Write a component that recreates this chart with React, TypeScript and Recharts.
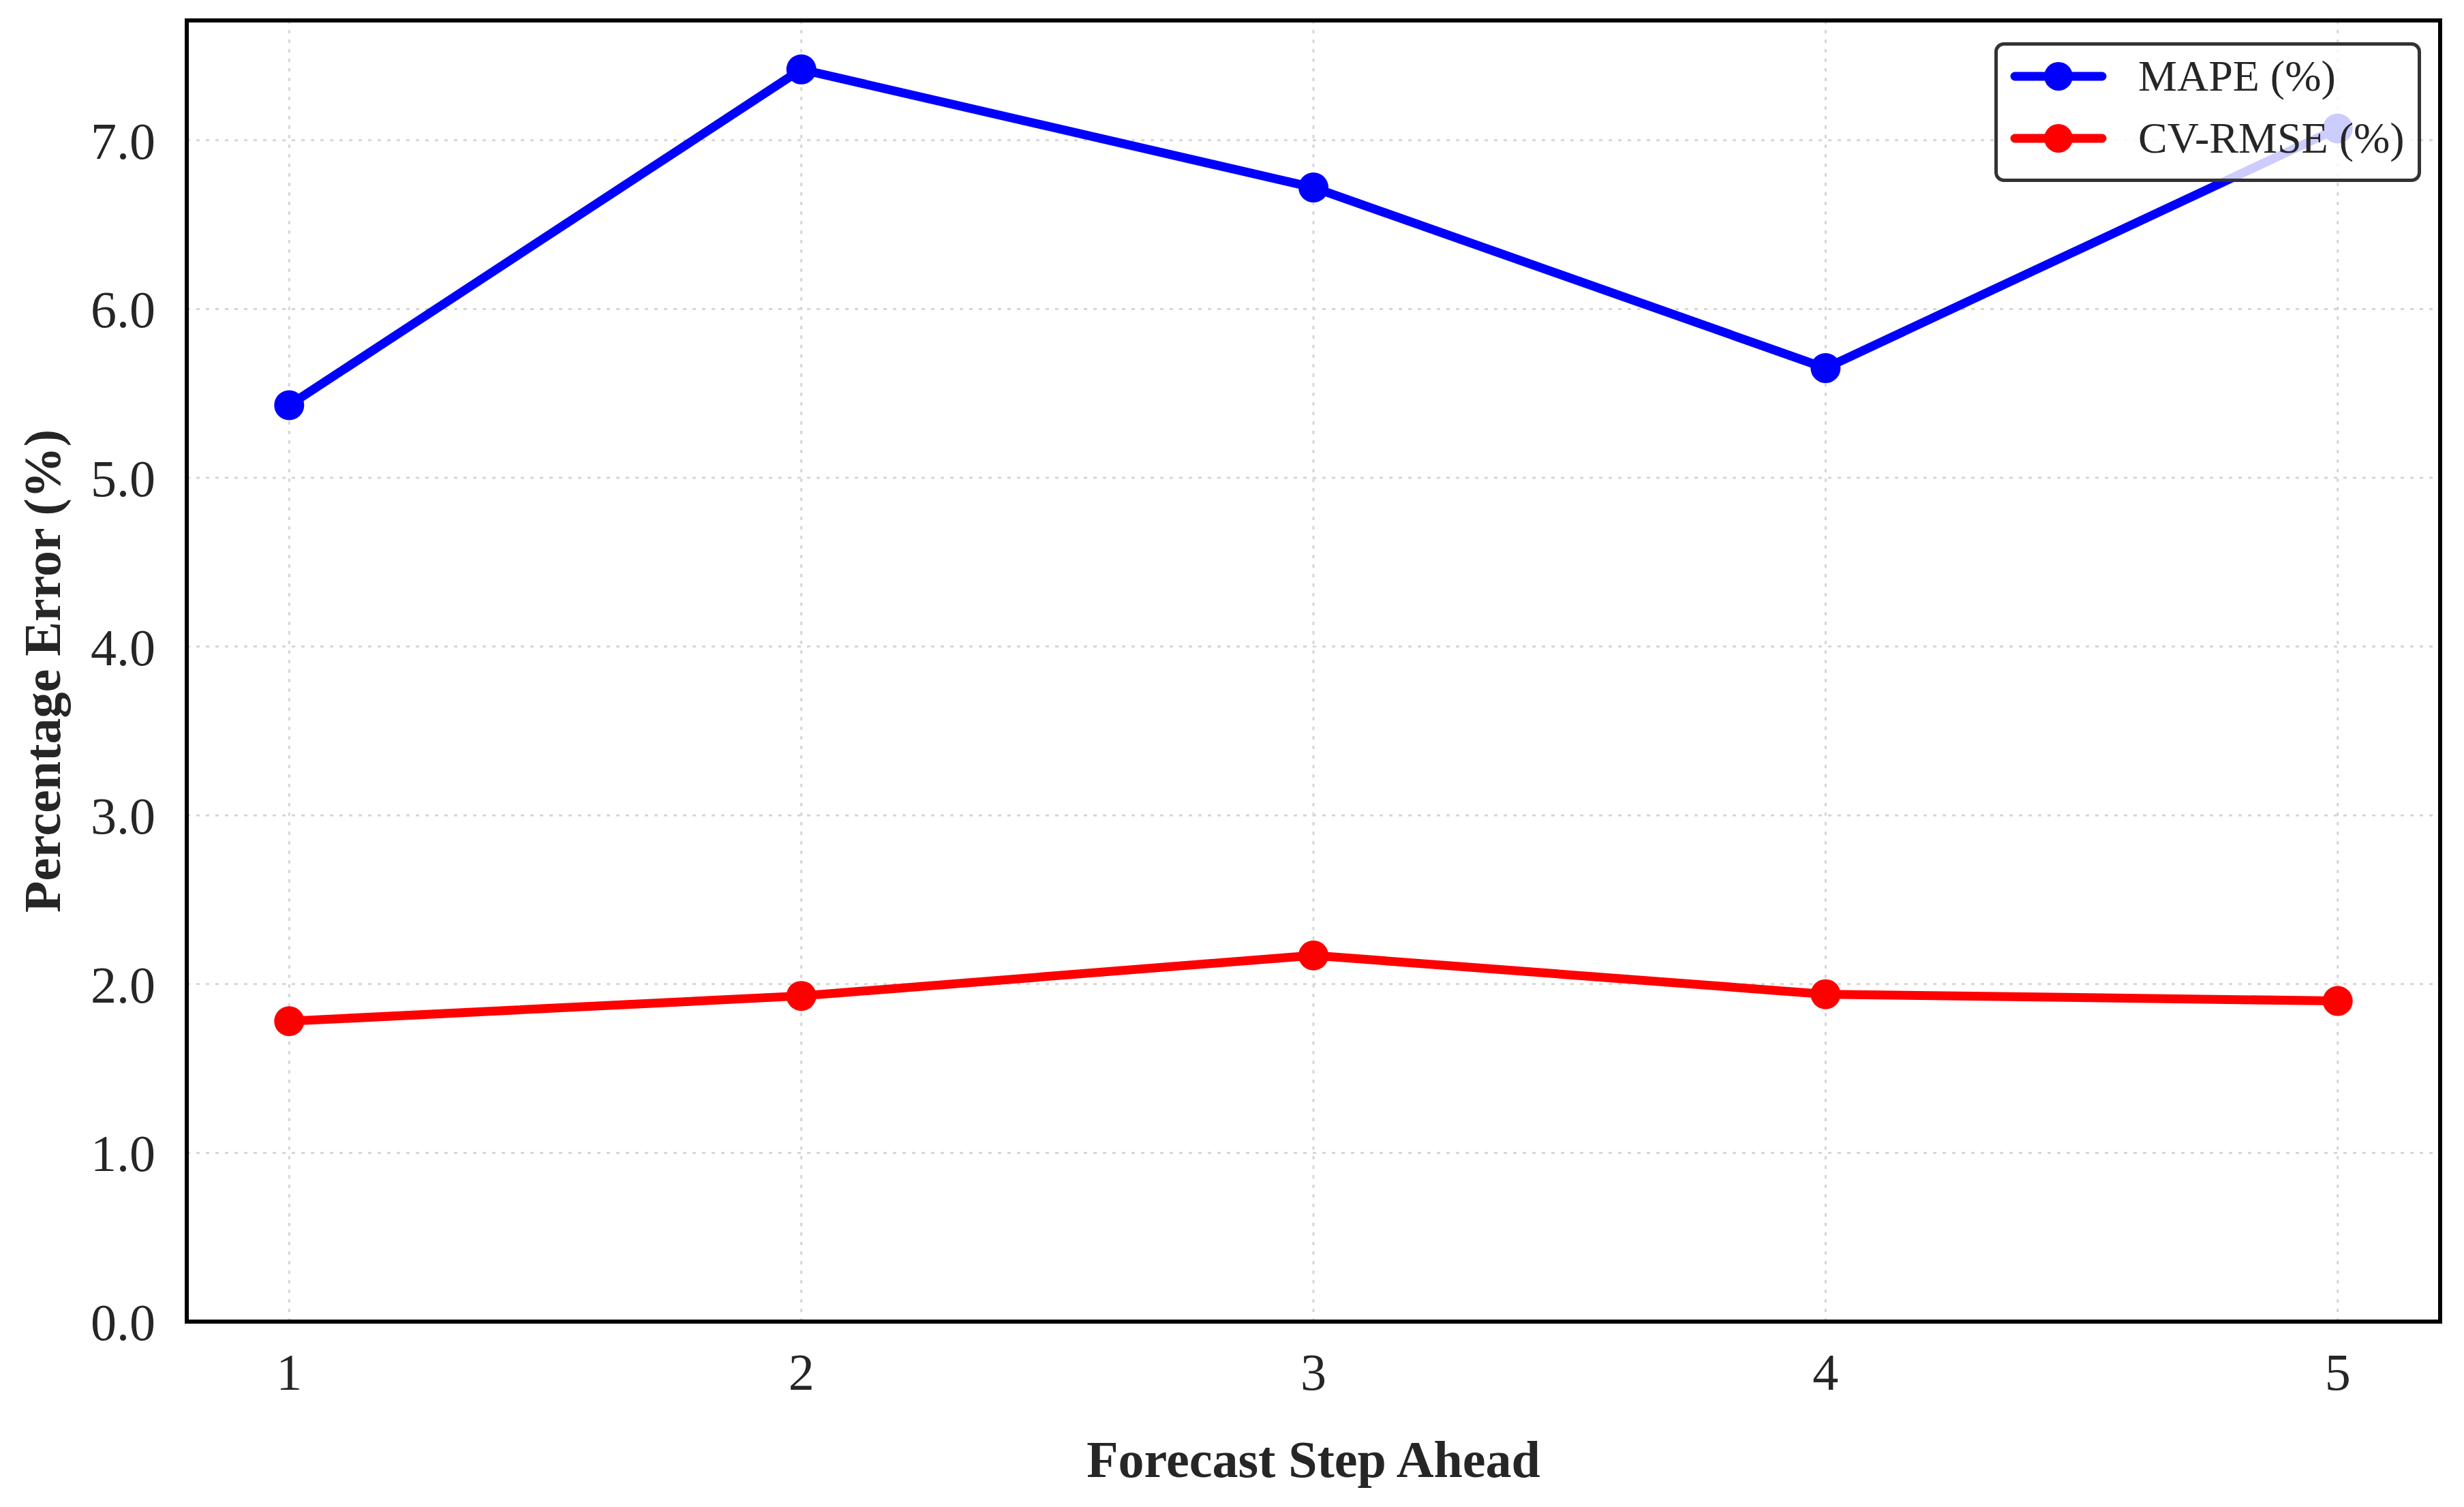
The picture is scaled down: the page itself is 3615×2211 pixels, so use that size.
import React from 'react';
import { LineChart, Line, XAxis, YAxis, CartesianGrid, Legend, ReferenceArea, Label } from 'recharts';

const steps = [1, 2, 3, 4, 5];
const mape = [5.43, 7.42, 6.72, 5.65, 7.07];
const cvRmse = [1.78, 1.93, 2.17, 1.94, 1.9];
const yTicks = [0, 1, 2, 3, 4, 5, 6, 7];
const seriesNames = ['MAPE (%)', 'CV-RMSE (%)'];

const data = steps.map((step, i) => ({ step, mape: mape[i], cvRmse: cvRmse[i] }));

const FONT = '"Liberation Serif", "Times New Roman", Times, serif';
const TEXT = '#262626';

const YTitle = (props: any) => {
  const { viewBox } = props;
  const cx = 88;
  const cy = viewBox.y + viewBox.height / 2;
  return (
    <text x={cx} y={cy} transform={`rotate(-90, ${cx}, ${cy})`} textAnchor="middle"
      fontFamily={FONT} fontSize={76} fontWeight="bold" fill={TEXT}>
      Percentage Error (%)
    </text>
  );
};

const XTitle = (props: any) => {
  const { viewBox } = props;
  return (
    <text x={viewBox.x + viewBox.width / 2} y={2167} textAnchor="middle"
      fontFamily={FONT} fontSize={76} fontWeight="bold" fill={TEXT}>
      Forecast Step Ahead
    </text>
  );
};

const renderLegend = (props: any) => {
  const payload = [...(props.payload || [])].sort(
    (a: any, b: any) => seriesNames.indexOf(a.value) - seriesNames.indexOf(b.value)
  );
  return (
    <div style={{
      position: 'relative', boxSizing: 'border-box', width: 626, height: 205,
      border: '5px solid #333', borderRadius: 14, background: 'rgba(255,255,255,0.8)',
    }}>
      {payload.map((entry: any, i: number) => (
        <div key={entry.value} style={{
          position: 'absolute', left: 17, top: 5 + i * 91, height: 80,
          display: 'flex', alignItems: 'center',
        }}>
          <svg width={144} height={50} style={{ display: 'block' }}>
            <line x1={8} y1={25} x2={136} y2={25} stroke={entry.color} strokeWidth={13} strokeLinecap="round" />
            <circle cx={72} cy={25} r={21} fill={entry.color} />
          </svg>
          <span style={{ marginLeft: 45, fontFamily: FONT, fontSize: 64, color: TEXT, whiteSpace: 'nowrap' }}>
            {entry.value}
          </span>
        </div>
      ))}
    </div>
  );
};

export default function App() {
  return (
    <div style={{ position: 'absolute', left: 0, top: 0, width: 3615, height: 2211, background: '#fff' }}>
      <LineChart width={3615} height={2211} data={data} margin={{ top: 30, right: 35, left: 54, bottom: 12 }}>
        <CartesianGrid stroke="#d6d6d6" strokeWidth={3} strokeDasharray="5 9" />
        <XAxis dataKey="step" type="number" domain={[0.8, 5.2]} ticks={steps} height={260}
          axisLine={false} tickLine={false} tickSize={0} tickMargin={46}
          tick={{ fontSize: 76, fill: TEXT, fontFamily: FONT }}>
          <Label content={XTitle} />
        </XAxis>
        <YAxis type="number" domain={[0, 7.71]} ticks={yTicks} width={220}
          axisLine={false} tickLine={false} tickSize={0} tickMargin={46}
          tickFormatter={(v: number) => v.toFixed(1)}
          tick={{ fontSize: 76, fill: TEXT, fontFamily: FONT }}>
          <Label content={YTitle} />
        </YAxis>
        <ReferenceArea x1={0.8} x2={5.2} y1={0} y2={7.71} fill="none" stroke="#000" strokeWidth={6} />
        <Line dataKey="mape" name={seriesNames[0]} stroke="#0000ff" strokeWidth={13} strokeLinejoin="round"
          dot={{ r: 22, fill: '#0000ff', stroke: '#0000ff', strokeWidth: 0 }} activeDot={false}
          isAnimationActive={false} />
        <Line dataKey="cvRmse" name={seriesNames[1]} stroke="#ff0000" strokeWidth={13} strokeLinejoin="round"
          dot={{ r: 22, fill: '#ff0000', stroke: '#ff0000', strokeWidth: 0 }} activeDot={false}
          isAnimationActive={false} />
        <Legend layout="vertical" align="center" verticalAlign="middle" content={renderLegend}
          wrapperStyle={{ top: 62, left: 2926, right: 'auto', bottom: 'auto', width: 626, height: 205 }} />
      </LineChart>
    </div>
  );
}
